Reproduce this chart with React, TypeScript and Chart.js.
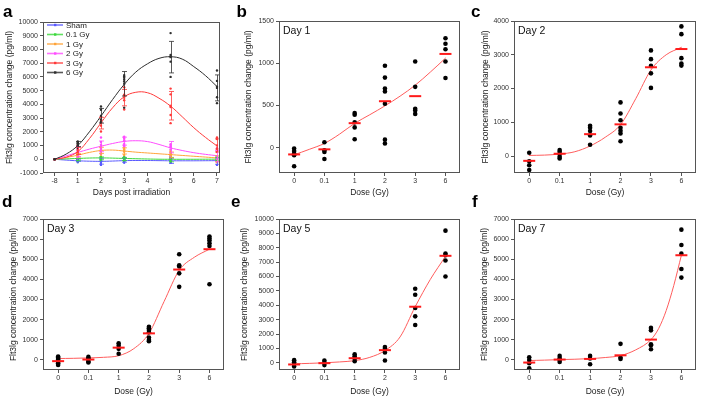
import React, { useEffect, useRef } from 'react';
import { Chart, registerables } from 'chart.js';
Chart.register(...registerables);

const FONT = '"Liberation Sans", Arial, Helvetica, sans-serif';
const Y_TITLE = 'Flt3lg concentration change (pg/ml)';

// ---------- categories ----------
const DOSE_LABELS = ['0', '0.1', '1', '2', '3', '6'];
const DOSE_POS = [0, 1, 2, 3, 4, 5];
const DAY_LABELS = ['-8', '1', '2', '3', '4', '5', '6', '7'];
const DAY_POS = [0, 1, 2, 3, 4, 5, 6, 7];
const MEASURED_DAY_POS = [1, 2, 3, 5, 7];
const SERIES_NAMES = ['Sham', '0.1 Gy', '1 Gy', '2 Gy', '3 Gy', '6 Gy'];
const SERIES_COLORS = ['#5a5aff', '#3ad83a', '#ffa43a', '#ff4cff', '#ff3a3a', '#2e2e2e'];

// ---------- individual values (per dose: 0, 0.1, 1, 2, 3, 6 Gy) ----------
const DAY1_DOTS = [
  [-10, -40, -70, -90, -220],
  [65, -30, -50, -135],
  [410, 390, 300, 240, 100],
  [970, 830, 700, 665, 520, 95, 50],
  [1020, 720, 460, 440, 400],
  [1295, 1230, 1165, 1020, 825],
];
const DAY1_MEANS = [-80, -20, 290, 550, 610, 1110];

const DAY2_DOTS = [
  [100, -150, -270, -410],
  [180, 130, 60, -20, -70],
  [900, 840, 740, 610, 335],
  [1590, 1260, 1060, 840, 750, 670, 440],
  [3130, 2870, 2670, 2450, 2020],
  [3840, 3610, 2900, 2740, 2680],
];
const DAY2_MEANS = [-140, 70, 650, 940, 2630, 3170];

const DAY3_DOTS = [
  [170, 120, 50, 0, -100, -170, -250],
  [150, 80, 20, -80, -130],
  [830, 710, 550, 310],
  [1650, 1570, 1490, 1370, 1110, 990, 930],
  [5250, 4700, 4640, 4300, 3630],
  [6130, 6030, 5930, 5790, 5660, 3760],
];
const DAY3_MEANS = [-60, 20, 610, 1320, 4490, 5500];

const DAY5_DOTS = [
  [185, 45, -115, -250],
  [160, 0, -160],
  [600, 460, 300, 115],
  [1100, 970, 720, 160],
  [5150, 4730, 3810, 3230, 2630],
  [9190, 7600, 7480, 7110, 6000],
];
const DAY5_MEANS = [-115, -25, 320, 880, 3900, 7440];

const DAY7_DOTS = [
  [130, 0, -165, -410],
  [200, 80, 0, -100],
  [200, 70, -215],
  [800, 120, 50],
  [1590, 1470, 780, 730, 530],
  [6470, 5710, 5280, 4520, 4090],
];
const DAY7_MEANS = [-130, 20, 50, 230, 1010, 5200];

// ---------- fitted curves (dose panels) ----------
const HALF_STEPS = [0, 0.5, 1, 1.5, 2, 2.5, 3, 3.5, 4, 4.5, 5];
const B_CURVE_Y = [-85, -20, 50, 160, 288, 390, 495, 610, 740, 895, 1060];
const C_CURVE_Y = [20, 30, 60, 130, 300, 560, 930, 1700, 2550, 3000, 3220];
const D_CURVE_Y = [70, 80, 100, 130, 210, 560, 1320, 2900, 4450, 5100, 5500];
const E_CURVE_Y = [-70, -40, 0, 60, 150, 380, 850, 1800, 3900, 5800, 7400];
const F_CURVE_X = [0, 0.5, 1, 1.5, 2, 2.5, 3, 3.5, 4, 4.25, 4.5, 4.75, 5];
const F_CURVE_Y = [-30, -10, 15, 35, 65, 120, 215, 500, 1010, 1550, 2450, 3700, 5200];

// ---------- fitted curves (time-course panel a) ----------
const A_CURVE_X = [0, 0.5, 1, 1.5, 2, 2.5, 3, 3.5, 4, 4.5, 5, 5.5, 6, 6.5, 7];
const A_SHAM = [0, -60, -110, -140, -150, -130, -100, -90, -90, -100, -110, -110, -110, -105, -100];
const A_G01 = [0, 30, 60, 90, 100, 85, 60, 40, 20, 5, 0, 0, 0, 5, 10];
const A_G1 = [0, 130, 300, 500, 640, 670, 600, 520, 460, 400, 340, 280, 220, 160, 100];
const A_G2 = [0, 250, 500, 740, 950, 1150, 1300, 1350, 1290, 1080, 830, 640, 480, 360, 260];
const A_G3 = [0, 150, 560, 1500, 2650, 3750, 4550, 4880, 4850, 4450, 3870, 3100, 2300, 1600, 970];
const A_G6 = [0, 380, 1000, 2000, 3150, 4350, 5450, 6350, 6950, 7350, 7470, 7300, 6750, 6100, 5300];
const A_CURVES = [A_SHAM, A_G01, A_G1, A_G2, A_G3, A_G6];

// ---------- tick values ----------
const A_Y_TICKS = [-1000, 0, 1000, 2000, 3000, 4000, 5000, 6000, 7000, 8000, 9000, 10000];
const B_Y_TICKS = [0, 500, 1000, 1500];
const C_Y_TICKS = [0, 1000, 2000, 3000, 4000];
const D_Y_TICKS = [0, 1000, 2000, 3000, 4000, 5000, 6000, 7000];
const E_Y_TICKS = [0, 1000, 2000, 3000, 4000, 5000, 6000, 7000, 8000, 9000, 10000];
const F_Y_TICKS = [0, 1000, 2000, 3000, 4000, 5000, 6000, 7000];

const ALL_DAY_DOTS = [DAY1_DOTS, DAY2_DOTS, DAY3_DOTS, DAY5_DOTS, DAY7_DOTS];
const ALL_DAY_MEANS = [DAY1_MEANS, DAY2_MEANS, DAY3_MEANS, DAY5_MEANS, DAY7_MEANS];

function sampleSD(arr: number[]): number {
  const m = arr.reduce((a, b) => a + b, 0) / arr.length;
  const v = arr.reduce((a, b) => a + (b - m) * (b - m), 0) / Math.max(1, arr.length - 1);
  return Math.sqrt(v);
}

interface PanelSpec {
  left: number; top: number; width: number; height: number;
  padTop: number; padRight: number; yWidth: number; xHeight: number; yTitlePad: number;
  xMin: number; xMax: number; xTicks: number[]; xLabels: string[]; xTitle: string;
  yMin: number; yMax: number; yTicks: number[];
  datasets: any[];
  dayLabel?: string;
  legend?: boolean;
  errorBars?: boolean;
}

function doseDatasets(dots: number[][], means: number[], cx: number[], cy: number[]) {
  const dotPts: any[] = [];
  dots.forEach((arr, i) => arr.forEach((v) => dotPts.push({ x: DOSE_POS[i], y: v })));
  return [
    {
      data: means.map((m, i) => ({ x: DOSE_POS[i], y: m })),
      pointStyle: 'line', pointRadius: 6, borderColor: '#ff1a1a', borderWidth: 2,
      backgroundColor: '#ff1a1a', showLine: false,
    },
    {
      data: dotPts, pointRadius: 2.3, backgroundColor: '#000', borderWidth: 0, showLine: false,
    },
    {
      data: cx.map((x, k) => ({ x, y: cy[k] })), showLine: true, pointRadius: 0,
      borderColor: '#ff5c5c', borderWidth: 1, cubicInterpolationMode: 'monotone', fill: false,
    },
  ];
}

function timeDatasets() {
  const ds: any[] = [];
  for (let i = SERIES_NAMES.length - 1; i >= 0; i--) {
    const col = SERIES_COLORS[i];
    const pts: any[] = [{ x: 0, y: 0 }];
    ALL_DAY_DOTS.forEach((day, d) => day[i].forEach((v) => pts.push({ x: MEASURED_DAY_POS[d], y: v })));
    ds.push({ data: pts, pointRadius: 1.2, backgroundColor: col, borderWidth: 0, showLine: false });
    ds.push({
      data: [{ x: 0, y: 0 }].concat(ALL_DAY_MEANS.map((day, d) => ({ x: MEASURED_DAY_POS[d], y: day[i] }))),
      pointStyle: 'rect', pointRadius: 1.5, backgroundColor: col, borderWidth: 0, showLine: false,
    });
    ds.push({
      data: A_CURVE_X.map((x, k) => ({ x, y: A_CURVES[i][k] })), showLine: true, pointRadius: 0,
      borderColor: col, borderWidth: 1, tension: 0.4, fill: false,
    });
  }
  return ds;
}

function makeConfig(s: PanelSpec): any {
  const tickFont = { family: FONT, size: 7 };
  const titleFont = { family: FONT, size: 8.5 };
  const decor = {
    id: 'decor',
    afterDatasetsDraw(chart: any) {
      const ctx = chart.ctx;
      const xs = chart.scales.x, ys = chart.scales.y;
      if (s.errorBars) {
        ctx.save();
        ctx.lineWidth = 0.8;
        for (let i = 0; i < SERIES_NAMES.length; i++) {
          ctx.strokeStyle = SERIES_COLORS[i];
          ALL_DAY_DOTS.forEach((day, d) => {
            const m = ALL_DAY_MEANS[d][i];
            const sdv = sampleSD(day[i]);
            const px = Math.round(xs.getPixelForValue(MEASURED_DAY_POS[d])) + 0.5;
            const y1 = ys.getPixelForValue(m - sdv), y2 = ys.getPixelForValue(m + sdv);
            ctx.beginPath();
            ctx.moveTo(px, y1); ctx.lineTo(px, y2);
            ctx.moveTo(px - 2.5, y1); ctx.lineTo(px + 2.5, y1);
            ctx.moveTo(px - 2.5, y2); ctx.lineTo(px + 2.5, y2);
            ctx.stroke();
          });
        }
        ctx.restore();
      }
    },
    afterDraw(chart: any) {
      const ctx = chart.ctx;
      const a = chart.chartArea;
      ctx.save();
      ctx.strokeStyle = '#555';
      ctx.lineWidth = 1;
      ctx.strokeRect(Math.round(a.left) + 0.5, Math.round(a.top) + 0.5, Math.round(a.right - a.left) - 1, Math.round(a.bottom - a.top) - 1);
      if (s.dayLabel) {
        ctx.fillStyle = '#111';
        ctx.font = `10.5px ${FONT}`;
        ctx.textBaseline = 'middle';
        ctx.textAlign = 'left';
        ctx.fillText(s.dayLabel, a.left + 4, a.top + 10);
      }
      if (s.legend) {
        ctx.font = `8px ${FONT}`;
        ctx.textBaseline = 'middle';
        ctx.textAlign = 'left';
        SERIES_NAMES.forEach((name, i) => {
          const y = a.top + 3 + i * 9.5;
          const x0 = a.left + 4;
          ctx.strokeStyle = SERIES_COLORS[i];
          ctx.globalAlpha = 0.8;
          ctx.lineWidth = 1.6;
          ctx.beginPath();
          ctx.moveTo(x0, y); ctx.lineTo(x0 + 16, y);
          ctx.stroke();
          ctx.globalAlpha = 1;
          ctx.fillStyle = SERIES_COLORS[i];
          ctx.fillRect(x0 + 7, y - 1.2, 2.4, 2.4);
          ctx.fillStyle = '#222';
          ctx.fillText(name, x0 + 19, y + 0.5);
        });
      }
      ctx.restore();
    },
  };
  return {
    type: 'scatter',
    data: { datasets: s.datasets },
    options: {
      responsive: false,
      animation: false,
      devicePixelRatio: 1,
      layout: { padding: { top: s.padTop, right: s.padRight, left: 0, bottom: 0 } },
      plugins: { legend: { display: false }, tooltip: { enabled: false } },
      elements: { line: { borderCapStyle: 'round' } },
      scales: {
        x: {
          type: 'linear', min: s.xMin, max: s.xMax,
          afterBuildTicks: (sc: any) => { sc.ticks = s.xTicks.map((v) => ({ value: v })); },
          afterFit: (sc: any) => { sc.height = s.xHeight; },
          ticks: {
            font: tickFont, color: '#333', padding: 1, maxRotation: 0, autoSkip: false,
            callback: (v: any) => s.xLabels[s.xTicks.indexOf(v)] ?? '',
          },
          grid: { drawOnChartArea: false, drawTicks: true, tickLength: 3, color: '#555' },
          border: { display: false },
          title: { display: true, text: s.xTitle, font: titleFont, color: '#222', padding: { top: 0, bottom: 0 } },
        },
        y: {
          type: 'linear', min: s.yMin, max: s.yMax,
          afterBuildTicks: (sc: any) => { sc.ticks = s.yTicks.map((v) => ({ value: v })); },
          afterFit: (sc: any) => { sc.width = s.yWidth; },
          ticks: { font: tickFont, color: '#333', padding: 2, callback: (v: any) => String(v) },
          grid: { drawOnChartArea: false, drawTicks: true, tickLength: 3, color: '#555' },
          border: { display: false },
          title: { display: true, text: Y_TITLE, font: titleFont, color: '#222', padding: { top: s.yTitlePad, bottom: 0 } },
        },
      },
    },
    plugins: [decor],
  };
}

function Panel({ spec }: { spec: PanelSpec }) {
  const ref = useRef<HTMLCanvasElement>(null);
  useEffect(() => {
    const chart = new Chart(ref.current as HTMLCanvasElement, makeConfig(spec));
    return () => chart.destroy();
  }, []);
  return (
    <canvas
      ref={ref}
      width={spec.width}
      height={spec.height}
      style={{ position: 'absolute', left: spec.left, top: spec.top, width: spec.width, height: spec.height }}
    />
  );
}

const doseBase = {
  xMin: -0.5, xMax: 5.48, xTicks: DOSE_POS, xLabels: DOSE_LABELS, xTitle: 'Dose (Gy)',
};

const PANELS: PanelSpec[] = [
  {
    left: 0, top: 0, width: 232, height: 198, padTop: 22, padRight: 12, yWidth: 43, xHeight: 25, yTitlePad: 5,
    xMin: -0.5, xMax: 7.13, xTicks: DAY_POS, xLabels: DAY_LABELS, xTitle: 'Days post irradiation',
    yMin: -1000, yMax: 10000, yTicks: A_Y_TICKS, datasets: timeDatasets(), legend: true, errorBars: true,
  },
  {
    left: 232, top: 0, width: 236, height: 198, padTop: 21, padRight: 6, yWidth: 47, xHeight: 25, yTitlePad: 12,
    ...doseBase, yMin: -300, yMax: 1500, yTicks: B_Y_TICKS,
    datasets: doseDatasets(DAY1_DOTS, DAY1_MEANS, HALF_STEPS, B_CURVE_Y), dayLabel: 'Day 1',
  },
  {
    left: 468, top: 0, width: 236, height: 198, padTop: 21, padRight: 5, yWidth: 46, xHeight: 25, yTitlePad: 13,
    ...doseBase, yMin: -500, yMax: 4000, yTicks: C_Y_TICKS,
    datasets: doseDatasets(DAY2_DOTS, DAY2_MEANS, HALF_STEPS, C_CURVE_Y), dayLabel: 'Day 2',
  },
  {
    left: 0, top: 199, width: 232, height: 198, padTop: 20, padRight: 2, yWidth: 43, xHeight: 27, yTitlePad: 9,
    ...doseBase, yMin: -500, yMax: 7000, yTicks: D_Y_TICKS,
    datasets: doseDatasets(DAY3_DOTS, DAY3_MEANS, HALF_STEPS, D_CURVE_Y), dayLabel: 'Day 3',
  },
  {
    left: 232, top: 199, width: 236, height: 198, padTop: 20, padRight: 3, yWidth: 47, xHeight: 27, yTitlePad: 8,
    ...doseBase, yMin: -500, yMax: 10000, yTicks: E_Y_TICKS,
    datasets: doseDatasets(DAY5_DOTS, DAY5_MEANS, HALF_STEPS, E_CURVE_Y), dayLabel: 'Day 5',
  },
  {
    left: 468, top: 199, width: 236, height: 198, padTop: 20, padRight: 4, yWidth: 46, xHeight: 27, yTitlePad: 12,
    ...doseBase, yMin: -500, yMax: 7000, yTicks: F_Y_TICKS,
    datasets: doseDatasets(DAY7_DOTS, DAY7_MEANS, F_CURVE_X, F_CURVE_Y), dayLabel: 'Day 7',
  },
];

const LETTERS = [
  { t: 'a', x: 3, y: 2.6 },
  { t: 'b', x: 236.5, y: 2.6 },
  { t: 'c', x: 471, y: 2.6 },
  { t: 'd', x: 2, y: 192.6 },
  { t: 'e', x: 231, y: 192.6 },
  { t: 'f', x: 472, y: 192.6 },
];

export default function App() {
  return (
    <div style={{ position: 'fixed', left: 0, top: 0, width: 704, height: 400, background: '#fff', overflow: 'hidden' }}>
      {PANELS.map((p, i) => (
        <Panel key={i} spec={p} />
      ))}
      {LETTERS.map((l) => (
        <div
          key={l.t}
          style={{
            position: 'absolute', left: l.x, top: l.y, fontFamily: FONT, fontWeight: 'bold',
            fontSize: 17, lineHeight: '17px', color: '#000',
          }}
        >
          {l.t}
        </div>
      ))}
    </div>
  );
}
